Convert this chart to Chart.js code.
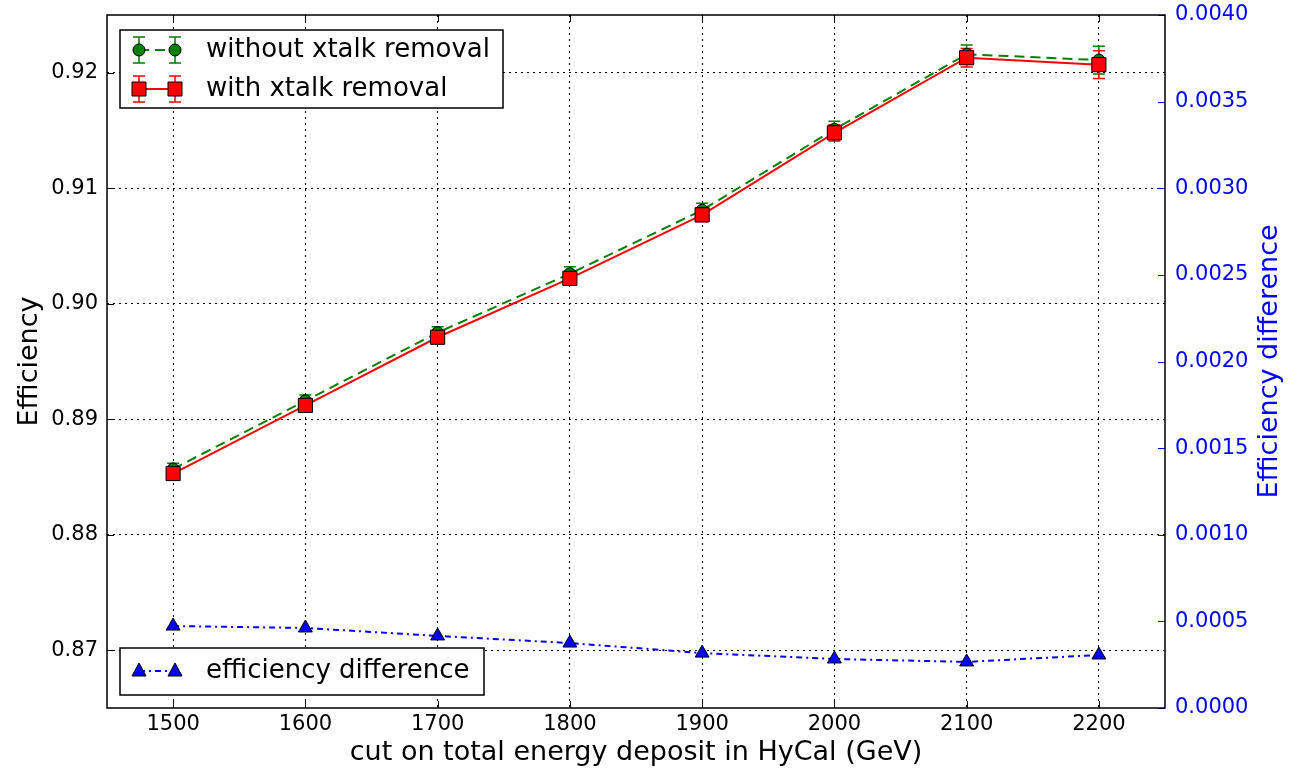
<!DOCTYPE html>
<html>
<head>
<meta charset="utf-8">
<script src="https://cdn.jsdelivr.net/npm/chart.js@4"></script>
<style>
html,body{margin:0;padding:0;background:#fff;}
#wrap{width:1300px;height:771px;position:relative;}
</style>
</head>
<body>
<div id="wrap"><canvas id="c" width="1300" height="771"></canvas></div>
<script>
const cuts = [1500, 1600, 1700, 1800, 1900, 2000, 2100, 2200];
const effWithout = [0.8857, 0.8916, 0.8975, 0.9026, 0.9081, 0.9151, 0.9216, 0.9211];
const effWith    = [0.8853, 0.8912, 0.8971, 0.9022, 0.9077, 0.9148, 0.9213, 0.9207];
const errWithout = [0.0005, 0.0005, 0.0005, 0.0006, 0.0006, 0.0007, 0.0008, 0.0012];
const errWith    = [0.0005, 0.0005, 0.0005, 0.0006, 0.0006, 0.0007, 0.0008, 0.0012];
const effDiff    = [0.000473, 0.000462, 0.000416, 0.000375, 0.000317, 0.000283, 0.000266, 0.000306];
const xTicks = [1500, 1600, 1700, 1800, 1900, 2000, 2100, 2200];
const yTicks = [0.87, 0.88, 0.89, 0.90, 0.91, 0.92];
const y2Ticks = [0, 0.0005, 0.001, 0.0015, 0.002, 0.0025, 0.003, 0.0035, 0.004];

const FONT = "'DejaVu Sans', sans-serif";
const GREEN = '#008000', RED = '#ff0000', BLUE = '#0000ff';

const errorBars = {
  id: 'errorBars',
  beforeDatasetsDraw(chart) {
    const ctx = chart.ctx, xs = chart.scales.x, ys = chart.scales.y;
    const sets = [[effWithout, errWithout, GREEN], [effWith, errWith, RED]];
    ctx.save();
    ctx.lineWidth = 1.5;
    sets.forEach(([vals, errs, col]) => {
      ctx.strokeStyle = col;
      vals.forEach((v, i) => {
        const px = xs.getPixelForValue(cuts[i]);
        const y1 = ys.getPixelForValue(v + errs[i]);
        const y2 = ys.getPixelForValue(v - errs[i]);
        ctx.beginPath();
        ctx.moveTo(px, y1); ctx.lineTo(px, y2);
        ctx.moveTo(px - 6, y1); ctx.lineTo(px + 6, y1);
        ctx.moveTo(px - 6, y2); ctx.lineTo(px + 6, y2);
        ctx.stroke();
      });
    });
    ctx.restore();
  }
};

function drawMarker(ctx, type, x, y, col) {
  ctx.save();
  ctx.fillStyle = col; ctx.strokeStyle = '#000'; ctx.lineWidth = 1;
  ctx.beginPath();
  if (type === 'circle') ctx.arc(x, y, 6, 0, Math.PI * 2);
  else if (type === 'rect') ctx.rect(x - 7, y - 7, 14, 14);
  else { ctx.moveTo(x, y - 8); ctx.lineTo(x + 7, y + 5); ctx.lineTo(x - 7, y + 5); ctx.closePath(); }
  ctx.fill(); ctx.stroke();
  ctx.restore();
}

const frame = {
  id: 'frame',
  afterDatasetsDraw(chart) {
    const ctx = chart.ctx, a = chart.chartArea;
    const xs = chart.scales.x, ys = chart.scales.y, y2 = chart.scales.y2;
    ctx.save();
    // inward ticks
    ctx.lineWidth = 1;
    ctx.strokeStyle = '#000';
    xTicks.forEach(v => {
      const px = Math.round(xs.getPixelForValue(v)) + 0.5;
      ctx.beginPath();
      ctx.moveTo(px, a.bottom); ctx.lineTo(px, a.bottom - 7);
      ctx.moveTo(px, a.top); ctx.lineTo(px, a.top + 7);
      ctx.stroke();
    });
    yTicks.forEach(v => {
      const py = Math.round(ys.getPixelForValue(v)) + 0.5;
      ctx.beginPath(); ctx.moveTo(a.left, py); ctx.lineTo(a.left + 7, py); ctx.stroke();
    });
    ctx.strokeStyle = BLUE;
    y2Ticks.forEach(v => {
      const py = Math.round(y2.getPixelForValue(v)) + 0.5;
      ctx.beginPath(); ctx.moveTo(a.right, py); ctx.lineTo(a.right - 7, py); ctx.stroke();
    });
    // frame
    ctx.strokeStyle = '#000'; ctx.lineWidth = 1.5;
    ctx.strokeRect(a.left, a.top, a.right - a.left, a.bottom - a.top);

    // right axis title (reads bottom to top)
    ctx.save();
    ctx.translate(1270, (a.top + a.bottom) / 2);
    ctx.rotate(-Math.PI / 2);
    ctx.font = "27px " + FONT;
    ctx.fillStyle = BLUE; ctx.textAlign = 'center'; ctx.textBaseline = 'middle';
    ctx.fillText('Efficiency difference', 0, 0);
    ctx.restore();

    // legends
    ctx.font = "26px " + FONT;
    ctx.textBaseline = 'middle';
    ctx.textAlign = 'left';
    ctx.fillStyle = '#fff'; ctx.strokeStyle = '#000'; ctx.lineWidth = 1.5;
    ctx.fillRect(120, 30, 383, 78); ctx.strokeRect(120, 30, 383, 78);
    let ly = 50;
    ctx.strokeStyle = GREEN; ctx.lineWidth = 2; ctx.setLineDash([10, 6]);
    ctx.beginPath(); ctx.moveTo(139, ly); ctx.lineTo(175, ly); ctx.stroke();
    ctx.setLineDash([]); ctx.lineWidth = 1.5;
    [139, 175].forEach(px => {
      ctx.beginPath();
      ctx.moveTo(px, ly - 13); ctx.lineTo(px, ly + 13);
      ctx.moveTo(px - 6, ly - 13); ctx.lineTo(px + 6, ly - 13);
      ctx.moveTo(px - 6, ly + 13); ctx.lineTo(px + 6, ly + 13);
      ctx.stroke();
      drawMarker(ctx, 'circle', px, ly, GREEN);
    });
    ctx.fillStyle = '#000'; ctx.fillText('without xtalk removal', 206, ly);
    ly = 89;
    ctx.strokeStyle = RED; ctx.lineWidth = 2;
    ctx.beginPath(); ctx.moveTo(139, ly); ctx.lineTo(175, ly); ctx.stroke();
    ctx.lineWidth = 1.5;
    [139, 175].forEach(px => {
      ctx.beginPath();
      ctx.moveTo(px, ly - 13); ctx.lineTo(px, ly + 13);
      ctx.moveTo(px - 6, ly - 13); ctx.lineTo(px + 6, ly - 13);
      ctx.moveTo(px - 6, ly + 13); ctx.lineTo(px + 6, ly + 13);
      ctx.stroke();
      drawMarker(ctx, 'rect', px, ly, RED);
    });
    ctx.fillStyle = '#000'; ctx.fillText('with xtalk removal', 206, ly);

    ctx.fillStyle = '#fff'; ctx.strokeStyle = '#000'; ctx.lineWidth = 1.5;
    ctx.fillRect(120, 648, 364, 47); ctx.strokeRect(120, 648, 364, 47);
    ly = 671;
    ctx.strokeStyle = BLUE; ctx.lineWidth = 2; ctx.setLineDash([6, 4, 2, 4]);
    ctx.beginPath(); ctx.moveTo(139, ly); ctx.lineTo(175, ly); ctx.stroke();
    ctx.setLineDash([]);
    [139, 175].forEach(px => drawMarker(ctx, 'tri', px, ly, BLUE));
    ctx.fillStyle = '#000'; ctx.fillText('efficiency difference', 206, ly);
    ctx.restore();
  }
};

new Chart(document.getElementById('c'), {
  type: 'line',
  data: {
    datasets: [
      {
        label: 'without xtalk removal', yAxisID: 'y', order: 2,
        data: cuts.map((c, i) => ({ x: c, y: effWithout[i] })),
        borderColor: GREEN, borderWidth: 2, borderDash: [10, 6],
        pointStyle: 'circle', pointRadius: 6, pointBackgroundColor: GREEN,
        pointBorderColor: '#000', pointBorderWidth: 1, tension: 0
      },
      {
        label: 'with xtalk removal', yAxisID: 'y', order: 1,
        data: cuts.map((c, i) => ({ x: c, y: effWith[i] })),
        borderColor: RED, borderWidth: 2,
        pointStyle: 'rect', pointRadius: 10, pointBackgroundColor: RED,
        pointBorderColor: '#000', pointBorderWidth: 1, tension: 0
      },
      {
        label: 'efficiency difference', yAxisID: 'y2', order: 0,
        data: cuts.map((c, i) => ({ x: c, y: effDiff[i] })),
        borderColor: BLUE, borderWidth: 2, borderDash: [6, 4, 2, 4],
        pointStyle: 'triangle', pointRadius: 8, pointBackgroundColor: BLUE,
        pointBorderColor: '#000', pointBorderWidth: 1, tension: 0
      }
    ]
  },
  options: {
    responsive: false, animation: false,
    layout: { padding: { top: 15, left: 0, right: 0, bottom: 0 } },
    plugins: { legend: { display: false }, tooltip: { enabled: false } },
    scales: {
      x: {
        type: 'linear', min: 1450, max: 2250,
        afterBuildTicks: s => { s.ticks = xTicks.map(v => ({ value: v })); },
        afterFit: s => { s.height = 63; s.paddingLeft = 0; s.paddingRight = 0; },
        grid: { color: '#000', lineWidth: 1, drawTicks: false },
        border: { display: false, dash: [2, 4] },
        ticks: { color: '#000', font: { family: FONT, size: 21 }, padding: 4, maxRotation: 0, callback: v => String(v) },
        title: { display: true, text: 'cut on total energy deposit in HyCal (GeV)', color: '#000', font: { family: FONT, size: 27 }, padding: { top: 0, bottom: 2 } }
      },
      y: {
        position: 'left', min: 0.865, max: 0.925,
        afterBuildTicks: s => { s.ticks = yTicks.map(v => ({ value: v })); },
        afterFit: s => { s.width = 107; s.paddingTop = 0; s.paddingBottom = 0; },
        grid: { color: '#000', lineWidth: 1, drawTicks: false },
        border: { display: false, dash: [2, 4] },
        ticks: { color: '#000', font: { family: FONT, size: 21 }, padding: 9, callback: v => v.toFixed(2) },
        title: { display: true, text: 'Efficiency', color: '#000', font: { family: FONT, size: 27 }, padding: { top: 14, bottom: 0 } }
      },
      y2: {
        position: 'right', min: 0, max: 0.004,
        afterBuildTicks: s => { s.ticks = y2Ticks.map(v => ({ value: v })); },
        afterFit: s => { s.width = 135; s.paddingTop = 0; s.paddingBottom = 0; },
        grid: { display: false, drawTicks: false },
        border: { display: false },
        ticks: { color: BLUE, font: { family: FONT, size: 21 }, padding: 10, callback: v => v.toFixed(4) },
        title: { display: false }
      }
    }
  },
  plugins: [errorBars, frame]
});
</script>
</body>
</html>
